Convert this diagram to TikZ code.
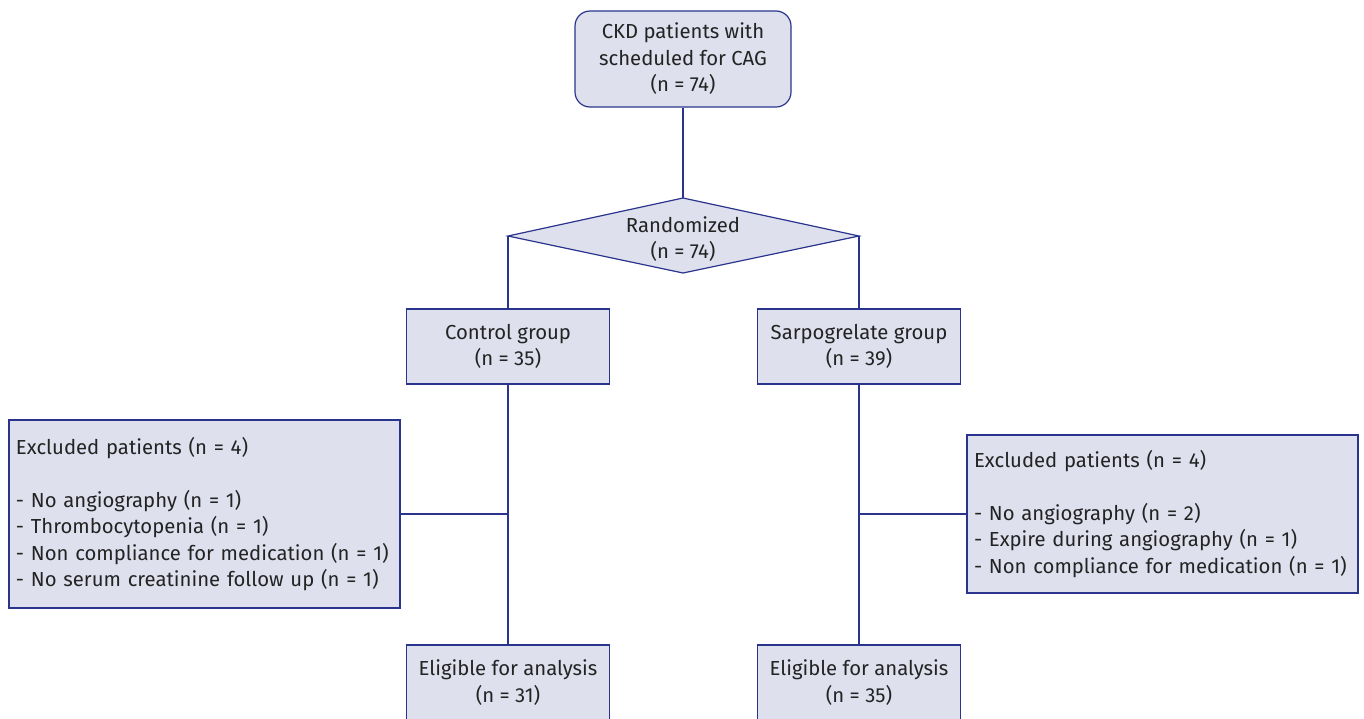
\documentclass[tikz,border=0pt]{standalone}
\usepackage{fontspec}
\setmainfont{Fira Sans}
\definecolor{lineblue}{RGB}{42,52,140}
\definecolor{boxfill}{RGB}{222,224,238}
\definecolor{txtgray}{RGB}{35,35,35}

\tikzset{
  fcnode/.style = {draw=lineblue, fill=boxfill, line width=1.2pt, text=txtgray,
    align=center, inner sep=0pt, font=\fontsize{20.3}{26.5}\selectfont},
  fc_start/.style = {fcnode, rounded corners=15pt, minimum width=216pt, minimum height=96pt},% premier noeud
  fc_grp/.style = {fcnode, minimum width=203pt, minimum height=75pt},% groupes
  fc_excl/.style = {fcnode, align=left, text width=377pt, minimum width=391pt},% exclus
  fc_link/.style = {draw=lineblue, line width=1.2pt}
}

\begin{document}
\begin{tikzpicture}[x=1pt, y=-1pt]
  \clip (0,0) rectangle (1364,718);
  % depart
  \node [fc_start] (ckd) at (683,59) {CKD patients with\\scheduled for CAG\\(n = 74)};
  % losange de randomisation
  \coordinate (rt) at (683,198);
  \coordinate (rl) at (508,236);
  \coordinate (rr) at (859,236);
  \coordinate (rb) at (683,273);
  \filldraw [fc_link, fill=boxfill] (rt) -- (rr) -- (rb) -- (rl) -- cycle;
  \node [fcnode, draw=none, fill=none] (rand) at (683,239) {Randomized\\(n = 74)};
  % groupes
  \node [fc_grp] (ctrl) at (508,346.5) {Control group\\(n = 35)};
  \node [fc_grp] (sarp) at (859,346.5) {Sarpogrelate group\\(n = 39)};
  % exclus
  \node [fc_excl, minimum height=188pt] (exL) at (204.5,514) {Excluded patients (n = 4)\\[26.5pt]
    - No angiography (n = 1)\\- Thrombocytopenia (n = 1)\\- Non compliance for medication (n = 1)\\
    - No serum creatinine follow up (n = 1)};
  \node [fc_excl, minimum height=158pt] (exR) at (1162.5,514) {Excluded patients (n = 4)\\[26.5pt]
    - No angiography (n = 2)\\- Expire during angiography (n = 1)\\- Non compliance for medication (n = 1)};
  % analyse
  \node [fc_grp] (eliC) at (508,682.5) {Eligible for analysis\\(n = 31)};
  \node [fc_grp] (eliS) at (859,682.5) {Eligible for analysis\\(n = 35)};
  % liens
  \draw [fc_link] (ckd.south) -- (rt);
  \draw [fc_link] (rl) -- (ctrl.north);
  \draw [fc_link] (rr) -- (sarp.north);
  \draw [fc_link] (ctrl.south) -- (eliC.north);
  \draw [fc_link] (sarp.south) -- (eliS.north);
  \draw [fc_link] (exL.east) -- (ctrl.south |- exL.east);
  \draw [fc_link] (exR.west) -- (sarp.south |- exR.west);
\end{tikzpicture}
\end{document}
